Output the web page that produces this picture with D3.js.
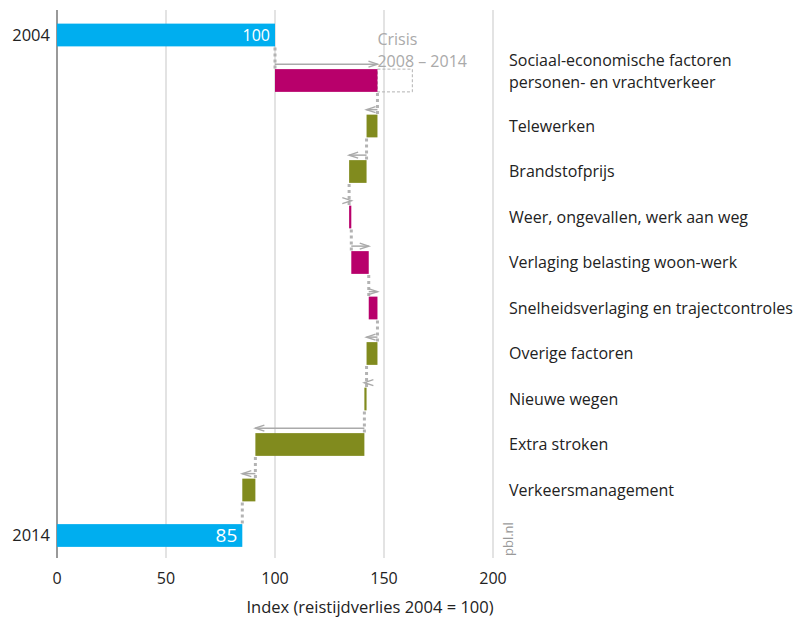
<!DOCTYPE html>
<html>
<head>
<meta charset="utf-8">
<script src="https://cdn.jsdelivr.net/npm/d3@7"></script>
<style>
  body { margin: 0; background: #fff; }
  svg text { font-family: "Open Sans", "Noto Sans", sans-serif; }
</style>
</head>
<body>
<script>
// rows, top to bottom
var rows = ["2004", "Sociaal-economische factoren|personen- en vrachtverkeer", "Telewerken",
    "Brandstofprijs", "Weer, ongevallen, werk aan weg", "Verlaging belasting woon-werk",
    "Snelheidsverlaging en trajectcontroles", "Overige factoren", "Nieuwe wegen",
    "Extra stroken", "Verkeersmanagement", "2014"];
var startValue = 100,
    endValue = 85;
var changes = [47, -5, -8, 1, 8, 4, -5, -1, -50, -6];
var crisisExtra = 16;
var xTicks = [0, 50, 100, 150, 200];

var blue = "#00aeef", up = "#b8006b", down = "#818b1e", grey = "#b3b3b3";

var width = 800, height = 618;

var x = d3.scaleLinear().domain([0, 200]).range([57, 493]);
var y = d3.scaleBand().domain(d3.range(rows.length)).range([12.25, 558.25])
    .paddingInner(0.5).paddingOuter(0.25);

var svg = d3.select("body").append("svg")
    .attr("width", width)
    .attr("height", height);

// build waterfall steps
var steps = [], total = startValue;
changes.forEach(function(c, i) {
  steps.push({ i: i + 1, from: total, to: total + c, change: c });
  total += c;
});

// gridlines
svg.append("g").selectAll("line")
    .data(xTicks)
  .enter().append("line")
    .attr("x1", function(d) { return x(d); })
    .attr("x2", function(d) { return x(d); })
    .attr("y1", 10)
    .attr("y2", 558)
    .attr("stroke", function(d) { return d === 0 ? "#999" : "#d0d0d0"; })
    .attr("stroke-width", function(d) { return d === 0 ? 2 : 1.2; });

// tick labels
svg.append("g").selectAll("text")
    .data(xTicks)
  .enter().append("text")
    .attr("x", function(d) { return x(d); })
    .attr("y", 584)
    .attr("text-anchor", "middle")
    .attr("font-size", 16)
    .attr("fill", "#222")
    .text(function(d) { return d; });

svg.append("text")
    .attr("x", 370)
    .attr("y", 613)
    .attr("text-anchor", "middle")
    .attr("font-size", 16.5)
    .attr("fill", "#222")
    .text("Index (reistijdverlies 2004 = 100)");

// crisis dashed box
svg.append("rect")
    .attr("x", x(steps[0].to))
    .attr("y", y(1))
    .attr("width", x(steps[0].to + crisisExtra) - x(steps[0].to))
    .attr("height", y.bandwidth())
    .attr("fill", "none")
    .attr("stroke", grey)
    .attr("stroke-width", 1)
    .attr("stroke-dasharray", "3,2");

svg.append("text")
    .attr("x", x(steps[0].to))
    .attr("y", 45)
    .attr("font-size", 16)
    .attr("fill", "#aaa")
    .text("Crisis");
svg.append("text")
    .attr("x", x(steps[0].to))
    .attr("y", 67)
    .attr("font-size", 16)
    .attr("fill", "#aaa")
    .text("2008 – 2014");

// total bars
var totals = [{ i: 0, v: startValue, size: 16 }, { i: rows.length - 1, v: endValue, size: 19 }];
svg.append("g").selectAll("rect")
    .data(totals)
  .enter().append("rect")
    .attr("x", x(0))
    .attr("y", function(d) { return y(d.i); })
    .attr("width", function(d) { return x(d.v) - x(0); })
    .attr("height", y.bandwidth())
    .attr("fill", blue);

svg.append("g").selectAll("text")
    .data(totals)
  .enter().append("text")
    .attr("x", function(d) { return x(d.v) - 5; })
    .attr("y", function(d) { return y(d.i) + y.bandwidth() / 2; })
    .attr("dy", "0.36em")
    .attr("text-anchor", "end")
    .attr("font-size", function(d) { return d.size; })
    .attr("fill", "#fff")
    .text(function(d) { return d.v; });

// dotted connectors
var conns = [{ v: startValue, i: 0 }].concat(steps.map(function(s) { return { v: s.to, i: s.i }; }));
svg.append("g").selectAll("line")
    .data(conns)
  .enter().append("line")
    .attr("x1", function(d) { return x(d.v); })
    .attr("x2", function(d) { return x(d.v); })
    .attr("y1", function(d) { return y(d.i) + y.bandwidth() + 1; })
    .attr("y2", function(d) { return y(d.i + 1); })
    .attr("stroke", grey)
    .attr("stroke-width", 3)
    .attr("stroke-dasharray", "3,3");

// step bars
svg.append("g").selectAll("rect")
    .data(steps)
  .enter().append("rect")
    .attr("x", function(d) { return x(Math.min(d.from, d.to)); })
    .attr("y", function(d) { return y(d.i); })
    .attr("width", function(d) { return Math.abs(x(d.to) - x(d.from)); })
    .attr("height", y.bandwidth())
    .attr("fill", function(d) { return d.change > 0 ? up : down; });

// direction arrows above each step
var arrows = svg.append("g")
    .attr("fill", "none")
    .attr("stroke", "#aaa")
    .attr("stroke-width", 1.5);

arrows.selectAll("line")
    .data(steps)
  .enter().append("line")
    .attr("x1", function(d) { return x(d.from); })
    .attr("x2", function(d) { return x(d.to); })
    .attr("y1", function(d) { return y(d.i) - 5; })
    .attr("y2", function(d) { return y(d.i) - 5; });

arrows.selectAll("path")
    .data(steps)
  .enter().append("path")
    .attr("d", function(d) {
      var tx = x(d.to), ty = y(d.i) - 5, s = d.change > 0 ? -1 : 1;
      return "M" + (tx + s * 9) + "," + (ty - 3) + "L" + tx + "," + ty + "L" + (tx + s * 9) + "," + (ty + 3);
    });

// year labels
svg.append("g").selectAll("text")
    .data(totals)
  .enter().append("text")
    .attr("x", 50)
    .attr("y", function(d) { return y(d.i) + y.bandwidth() / 2; })
    .attr("dy", "0.36em")
    .attr("text-anchor", "end")
    .attr("font-size", 16.5)
    .attr("fill", "#222")
    .text(function(d) { return rows[d.i]; });

// category labels
var labels = svg.append("g").selectAll("text")
    .data(steps)
  .enter().append("text")
    .attr("x", 509)
    .attr("y", function(d) {
      var n = rows[d.i].split("|").length;
      return y(d.i) + y.bandwidth() / 2 - (n - 1) * 11 - (n > 1 ? 9 : 0);
    })
    .attr("font-size", 16)
    .attr("fill", "#222");

labels.selectAll("tspan")
    .data(function(d) { return rows[d.i].split("|"); })
  .enter().append("tspan")
    .attr("x", 509)
    .attr("dy", function(d, k) { return k === 0 ? "0.36em" : 22; })
    .text(function(d) { return d; });

// source
svg.append("text")
    .attr("transform", "translate(513,556) rotate(-90)")
    .attr("font-size", 13)
    .attr("fill", "#999")
    .text("pbl.nl");
</script>
</body>
</html>
